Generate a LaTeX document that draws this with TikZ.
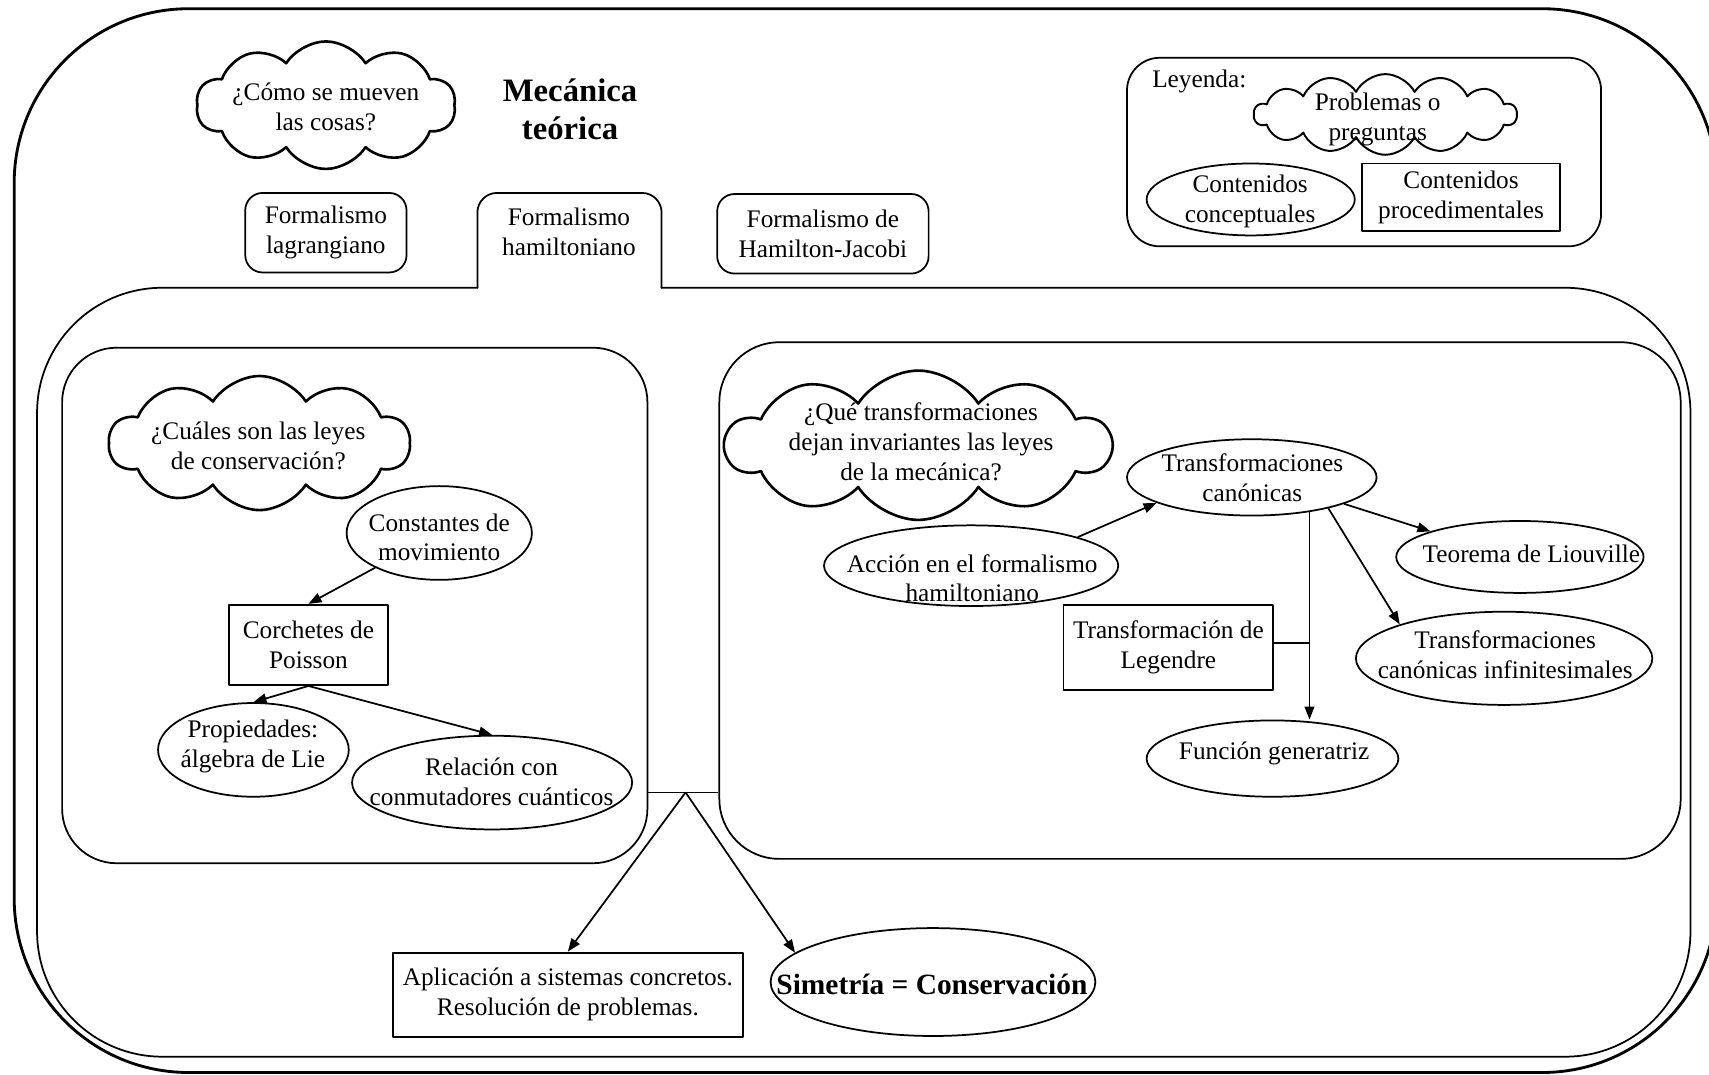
\documentclass[tikz,border=0pt]{standalone}
\usepackage{fontspec}
\setmainfont{Liberation Serif}
\usetikzlibrary{shapes.geometric,shapes.symbols,arrows.meta}
\newcommand{\fs}{\fontsize{23.2pt}{27.5pt}\selectfont}
\begin{document}
\begin{tikzpicture}[x=1pt,y=-1pt, line join=round,
  every node/.style={font=\fs},
  ell/.style={draw, ellipse, line width=1.6pt, inner sep=0pt},
  sqbox/.style={draw, rectangle, line width=1.8pt, inner sep=0pt, align=center},
  rbox/.style={draw, rectangle, rounded corners=#1, line width=1.6pt, inner sep=0pt, align=center},
  rbox/.default=16pt,
  thought/.style={draw, cloud, cloud puffs=10, cloud puff arc=115, cloud ignores aspect, line width=2.4pt, inner sep=0pt},
  lbl/.style={align=center, inner sep=0pt},
  arr/.style={line width=1.6pt, -{Triangle[length=12pt,width=9pt]}},
  link/.style={line width=1.6pt},
  frame/.style={line width=1.6pt, line cap=round}]
\useasboundingbox (0,0) rectangle (1568,986);
\clip (0,0) rectangle (1568,986);

% outer frame
\draw[line width=2.6pt, rounded corners=160pt] (13,8) rectangle (1575,984);

% hamiltonian frame with tab
\draw[frame, rounded corners=115pt] (438,264) -- (34,264) -- (34,969.5) -- (1551,969.5) -- (1551,264) -- (607,264);
\draw[frame, rounded corners=18pt] (438,264) -- (438,177) -- (607,177) -- (607,264);

% title and top question
\node[lbl, font=\fontsize{30pt}{35pt}\selectfont\bfseries] (title) at (523,100) {Mecánica\\teórica};
\node[thought, minimum width=238pt, minimum height=117pt] (q1) at (299,96.5) {};
\node[lbl] (q1t) at (299,98.5) {¿Cómo se mueven\\las cosas?};

% tabs
\node[rbox, minimum width=148pt, minimum height=73pt] (lag) at (299,213.5) {Formalismo\\lagrangiano};
\node[lbl] (ham) at (522,213) {Formalismo\\hamiltoniano};
\node[rbox, minimum width=194pt, minimum height=73pt] (hj) at (755,214.5) {Formalismo de\\Hamilton-Jacobi};

% legend
\node[rbox=30pt, minimum width=435pt, minimum height=173pt] (legbox) at (1251.5,139.5) {};
\node[anchor=west, inner sep=0pt] (leyenda) at (1057,75) {Leyenda:};
\node[thought, cloud puffs=14, cloud puff arc=125, minimum width=241pt, minimum height=74pt, line width=1.8pt] (lcloud) at (1271,105) {};
\node[lbl] (lcloudt) at (1264,110) {Problemas o\\preguntas};
\node[ell, minimum width=191pt, minimum height=66pt] (lell) at (1147.5,183) {};
\node[lbl] (lellt) at (1147,185) {Contenidos\\conceptuales};
\node[sqbox, minimum width=181pt, minimum height=62pt] (lrect) at (1340.5,181) {Contenidos\\procedimentales};

% inner boxes
\node[rbox=50pt, minimum width=537pt, minimum height=473pt] (lbox) at (325.5,555.5) {};
\node[rbox=55pt, minimum width=882pt, minimum height=474pt] (rbx) at (1101,551) {};

% left content
\node[thought, minimum width=276pt, minimum height=123pt] (q2) at (238,406.5) {};
\node[lbl] (q2t) at (237,409) {¿Cuáles son las leyes\\de conservación?};
\node[ell, minimum width=170pt, minimum height=86pt] (const) at (403,489) {};
\node[lbl] (constt) at (403,493) {Constantes de\\movimiento};
\node[sqbox, minimum width=146pt, minimum height=73.5pt] (corch) at (283,591.7) {Corchetes de\\Poisson};
\node[ell, minimum width=175pt, minimum height=86pt] (prop) at (232.5,688) {};
\node[lbl] (propt) at (232,684.5) {Propiedades:\\álgebra de Lie};
\node[ell, minimum width=257pt, minimum height=86pt] (rel) at (451.5,718) {};
\node[lbl] (relt) at (451,717) {Relación con\\conmutadores cuánticos};

\draw[arr] (const) -- (corch.north);
\draw[arr] (corch.south) -- (prop.north);
\draw[arr] (corch.south) -- (rel.north);

% right content
\node[thought, minimum width=353pt, minimum height=137pt] (q3) at (842.5,408.5) {};
\node[lbl] (q3t) at (845,405.5) {¿Qué transformaciones\\dejan invariantes las leyes\\de la mecánica?};
\node[ell, minimum width=229pt, minimum height=70pt] (trans) at (1148.5,438) {};
\node[lbl] (transt) at (1149,438) {Transformaciones\\canónicas};
\node[ell, minimum width=270pt, minimum height=74pt] (accion) at (891,519) {};
\node[lbl] (acciont) at (892,530.5) {Acción en el formalismo\\hamiltoniano};
\node[ell, minimum width=227pt, minimum height=66pt] (liou) at (1394.5,511) {};
\node[lbl] (liout) at (1405,508) {Teorema de Liouville};
\node[sqbox, minimum width=192.5pt, minimum height=77.5pt] (leg) at (1072,594) {Transformación de\\Legendre};
\node[ell, minimum width=272pt, minimum height=85.5pt] (infin) at (1380,604) {};
\node[lbl] (infint) at (1381,600.5) {Transformaciones\\canónicas infinitesimales};
\node[ell, minimum width=231pt, minimum height=70pt] (fun) at (1167.5,696) {};
\node[lbl] (funt) at (1169,691) {Función generatriz};

\draw[arr] (accion.15) -- (trans.195);
\draw[arr] (trans.344) -- (liou.164);
\draw[arr] (trans.338) -- (infin.162);
\draw[arr] (trans.329) -- (trans.329 |- fun.north);
\draw[link] ([yshift=4pt]leg.east) -- ([yshift=4pt]leg.east -| trans.329);

% bottom
\coordinate (apex) at (629,727);
\draw[link] (lbox.east |- apex) -- (rbx.west |- apex);
\node[sqbox, minimum width=321.6pt, minimum height=77pt] (apl) at (521,912.5) {Aplicación a sistemas concretos.\\Resolución de problemas.};
\node[ell, minimum width=298pt, minimum height=99pt] (sim) at (856,901) {};
\node[lbl, font=\fontsize{27pt}{32pt}\selectfont\bfseries] (simt) at (855,903) {Simetría = Conservación};
\draw[arr] (apex) -- (apl.north);
\draw[arr] (apex) -- (sim.168);
\end{tikzpicture}
\end{document}
